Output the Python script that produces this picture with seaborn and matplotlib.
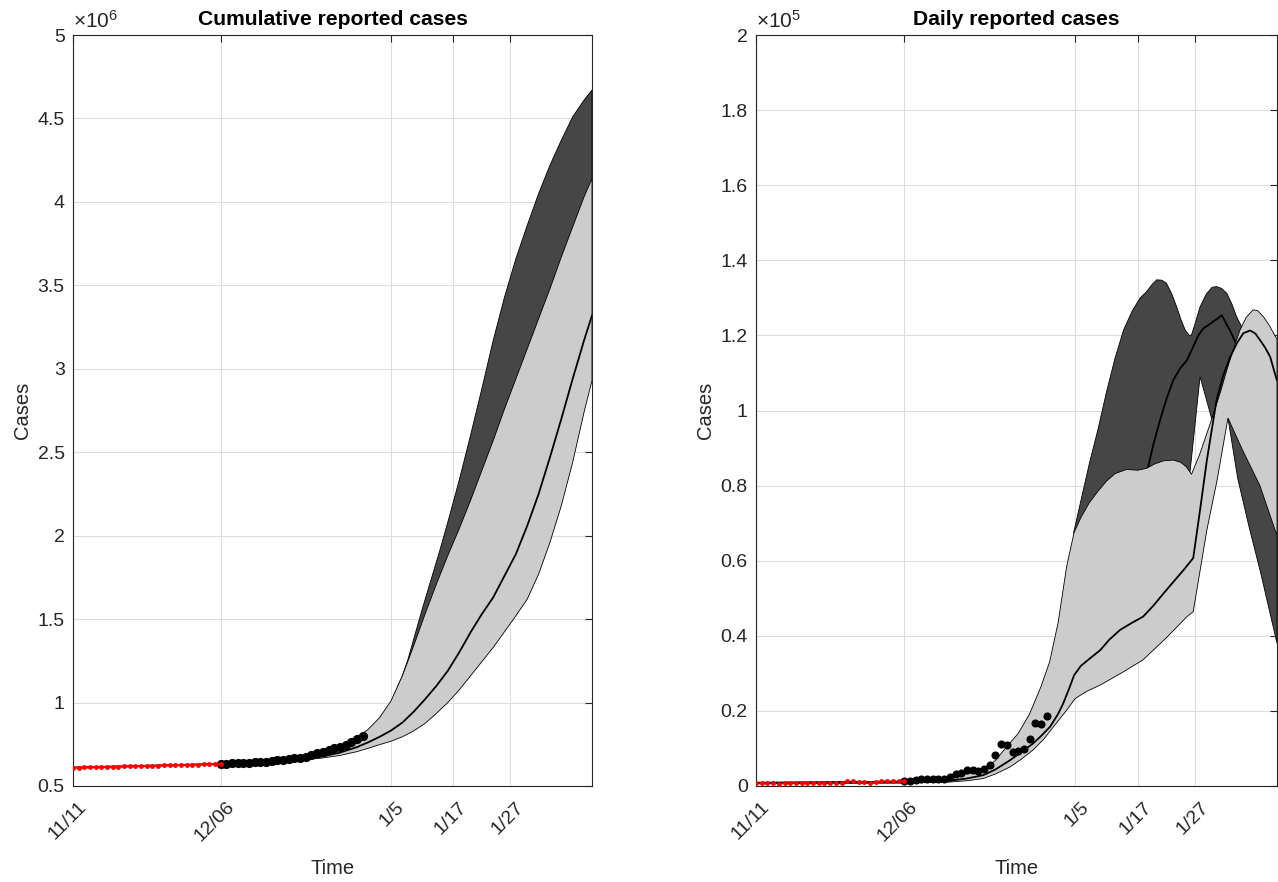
import numpy as np
import matplotlib
matplotlib.use('Agg')
import matplotlib.pyplot as plt
import matplotlib.transforms as mtransforms
import seaborn as sns

sns.set_style('white')
plt.rcParams['font.family'] = ['Liberation Sans', 'DejaVu Sans']
plt.rcParams['mathtext.fontset'] = 'custom'
plt.rcParams['mathtext.rm'] = 'Liberation Sans'
plt.rcParams['mathtext.it'] = 'Liberation Sans:italic'

# x axis: days since 11/11
tick_days = [0, 26, 56, 67, 77]
tick_labels = ['11/11', '12/06', '1/5', '1/17', '1/27']
x_end = 91.4

# ---- observed data ----
red_days = list(range(0, 27))
red_cum = [0.6100, 0.6108, 0.6116, 0.6124, 0.6131, 0.6139, 0.6147, 0.6155, 0.6164, 0.6173,
           0.6181, 0.6189, 0.6196, 0.6203, 0.6211, 0.6219, 0.6231, 0.6241, 0.6250, 0.6259,
           0.6265, 0.6274, 0.6285, 0.6295, 0.6305, 0.6313, 0.6320]          # x10^6
red_daily = [0.007, 0.007, 0.007, 0.007, 0.006, 0.007, 0.007, 0.008, 0.009, 0.009,
             0.009, 0.008, 0.008, 0.007, 0.008, 0.009, 0.014, 0.012, 0.010, 0.011,
             0.007, 0.011, 0.014, 0.013, 0.014, 0.012, 0.013]             # x10^5

obs_days = list(range(26, 52))
obs_cum = [0.6320, 0.6334, 0.6350, 0.6368, 0.6387, 0.6405, 0.6424, 0.6442, 0.6467, 0.6499,
           0.6534, 0.6577, 0.6620, 0.6661, 0.6705, 0.6761, 0.6844, 0.6956, 0.7065, 0.7156,
           0.7250, 0.7348, 0.7472, 0.7639, 0.7804, 0.7990]                # x10^6
obs_daily = [0.013, 0.014, 0.016, 0.018, 0.019, 0.018, 0.019, 0.018, 0.025, 0.032,
             0.035, 0.043, 0.043, 0.041, 0.044, 0.056, 0.083, 0.112, 0.109, 0.091,
             0.094, 0.098, 0.124, 0.167, 0.165, 0.186]                    # x10^5

# ---- cumulative forecast (x10^6) ----
cum_lo_up_d = [0, 26, 35, 40, 44, 47, 50, 52, 54, 56, 58, 60, 62, 64, 66, 68, 70, 72, 74, 76,
               78, 80, 82, 84, 86, 88, 90, 91.4]
cum_lo_up = [0.610, 0.632, 0.650, 0.670, 0.700, 0.740, 0.790, 0.840, 0.910, 1.010, 1.160, 1.340,
             1.530, 1.710, 1.880, 2.040, 2.210, 2.390, 2.570, 2.760, 2.940, 3.120, 3.300, 3.480,
             3.670, 3.850, 4.030, 4.140]
cum_lo_med_d = [0, 26, 30, 35, 40, 44, 47, 50, 52, 54, 56, 58, 60, 62, 64, 66, 68, 70, 72, 74,
                76, 78, 80, 82, 84, 86, 88, 90, 91.4]
cum_lo_med = [0.610, 0.632, 0.637, 0.645, 0.658, 0.677, 0.700, 0.733, 0.762, 0.795, 0.832, 0.880,
              0.945, 1.020, 1.100, 1.190, 1.300, 1.420, 1.530, 1.630, 1.760, 1.890, 2.060, 2.250,
              2.470, 2.700, 2.940, 3.170, 3.320]
cum_lo_low_d = [0, 26, 30, 35, 40, 44, 47, 50, 52, 54, 56, 58, 60, 62, 64, 66, 68, 70, 72, 74,
                76, 78, 80, 82, 84, 86, 88, 90, 91.4]
cum_lo_low = [0.610, 0.632, 0.636, 0.643, 0.654, 0.668, 0.683, 0.706, 0.726, 0.748, 0.768, 0.795,
              0.830, 0.875, 0.935, 1.000, 1.075, 1.160, 1.245, 1.330, 1.425, 1.520, 1.620, 1.770,
              1.960, 2.180, 2.440, 2.740, 2.930]
cum_hi_up_d = [56, 58, 59, 60, 61.5, 63, 64.5, 66, 68, 70, 72, 74, 76, 78, 80, 82, 84, 86, 88, 90, 91.4]
cum_hi_up = [1.000, 1.160, 1.260, 1.380, 1.560, 1.730, 1.900, 2.080, 2.330, 2.600, 2.880, 3.170,
             3.430, 3.660, 3.860, 4.050, 4.220, 4.370, 4.510, 4.610, 4.670]
cum_hi_low_d = [56, 58, 60, 64, 68, 72, 76, 80, 84, 88, 91.4]
cum_hi_low = [1.000, 1.150, 1.320, 1.700, 2.030, 2.380, 2.750, 3.110, 3.470, 3.840, 4.130]

# ---- daily forecast (x10^5) ----
day_lo_up_d = [0, 26, 30, 33.5, 36, 38, 40, 42, 44, 46, 48, 50, 51.5, 53, 54.5, 55.8, 57, 58.5,
               60, 61.5, 63, 65, 67, 68.5, 70, 71.5, 73.2, 74.5, 75.5, 76.4, 77.9, 79.9, 81.5,
               82.6, 83.8, 84.9, 86, 87.2, 88, 89, 90, 90.8, 91.4]
day_lo_up = [0.010, 0.013, 0.016, 0.022, 0.029, 0.036, 0.045, 0.068, 0.105, 0.140, 0.192, 0.265,
             0.330, 0.435, 0.585, 0.675, 0.715, 0.755, 0.785, 0.812, 0.832, 0.843, 0.841, 0.846,
             0.858, 0.866, 0.868, 0.862, 0.850, 0.830, 0.886, 0.975, 1.050, 1.108, 1.165, 1.214,
             1.248, 1.268, 1.266, 1.250, 1.228, 1.206, 1.190]
day_lo_med_d = [0, 26, 30, 33.5, 37, 39.9, 42, 44.6, 46.5, 48.6, 50, 51.6, 53, 53.9, 55, 55.8, 57,
                58.6, 60.4, 62, 63.9, 66, 67.9, 69.7, 71.5, 73.3, 75.0, 76.7, 77.9, 79.1, 80.8, 82,
                83.2, 84.4, 85.5, 86.7, 87.6, 88.4, 89.3, 90.2, 91.1, 91.4]
day_lo_med = [0.008, 0.010, 0.011, 0.013, 0.020, 0.029, 0.044, 0.069, 0.090, 0.113, 0.133, 0.158,
              0.192, 0.220, 0.262, 0.295, 0.320, 0.340, 0.362, 0.390, 0.416, 0.435, 0.451, 0.480,
              0.513, 0.545, 0.575, 0.607, 0.735, 0.868, 1.028, 1.095, 1.143, 1.180, 1.206, 1.213,
              1.205, 1.188, 1.168, 1.143, 1.095, 1.080]
day_lo_low_d = [0, 26, 30, 33.5, 37, 39.9, 42, 44.6, 46.5, 48.6, 50.5, 52.2, 54.5, 56.0, 58, 60.4,
                64, 67.9, 72, 75.6, 76.7, 79.1, 80.9, 82.8, 85.5, 88.4, 91.1, 91.4]
day_lo_low = [0.006, 0.008, 0.009, 0.010, 0.014, 0.020, 0.032, 0.051, 0.071, 0.096, 0.125, 0.158,
              0.202, 0.233, 0.252, 0.269, 0.300, 0.336, 0.395, 0.451, 0.464, 0.682, 0.815, 0.980,
              0.890, 0.800, 0.680, 0.670]
day_hi_up_d = [55.7, 57, 58.5, 60, 61.5, 63, 64.5, 66, 67.4, 68.5, 69.5, 70.3, 71.2, 72.0, 72.9,
               73.8, 74.6, 75.3, 76.0, 76.4, 77.0, 77.9, 79, 80, 80.8, 81.7, 82.6, 83.5, 84.3,
               85.2, 87.0, 89.0, 91.4]
day_hi_up = [0.673, 0.760, 0.860, 0.950, 1.050, 1.140, 1.215, 1.265, 1.300, 1.316, 1.336, 1.348,
             1.347, 1.339, 1.312, 1.276, 1.240, 1.214, 1.200, 1.201, 1.230, 1.276, 1.310, 1.328,
             1.330, 1.325, 1.312, 1.283, 1.250, 1.223, 1.120, 0.980, 0.820]
day_hi_low_d = [55.7, 60, 65, 70, 74, 76.1, 77.0, 77.9, 79, 80.0, 81.5, 82.8, 84.5, 86.5, 88.5,
                91.1, 91.4]
day_hi_low = [0.673, 0.750, 0.800, 0.820, 0.820, 0.830, 0.960, 1.090, 1.030, 0.975, 0.980, 0.980,
              0.820, 0.690, 0.570, 0.400, 0.380]
day_hi_med_d = [67.4, 68.8, 69.8, 70.9, 72, 73.2, 74.4, 75.6, 76.7, 77.6, 78.5, 79.4, 80.2, 81,
                81.7, 82.2, 82.6, 83.2, 83.8, 85.0]
day_hi_med = [0.800, 0.850, 0.915, 0.975, 1.030, 1.081, 1.112, 1.134, 1.170, 1.200, 1.219, 1.228,
              1.237, 1.245, 1.254, 1.240, 1.228, 1.212, 1.192, 1.150]

DARK = '#464646'
LIGHT = '#cccccc'
AXC = '#262626'


def band(ax, xu, yu, xl, yl, color, z):
    xs = np.concatenate([np.array(xu), np.array(xl)[::-1]])
    ys = np.concatenate([np.array(yu), np.array(yl)[::-1]])
    ax.fill(xs, ys, facecolor=color, edgecolor='black', linewidth=0.6, zorder=z)


def style(fig, ax, yticks, ylabels, ylim, title, mult):
    ax.set_xlim(0, x_end)
    ax.set_ylim(*ylim)
    ax.set_xticks(tick_days)
    ax.set_xticklabels(tick_labels, rotation=45, ha='right')
    ax.set_yticks(yticks)
    ax.set_yticklabels(ylabels)
    ax.tick_params(direction='in', length=5, width=0.8, top=True, right=True,
                   labelsize=14, colors=AXC, pad=6)
    ax.tick_params(axis='x', pad=9)
    ax.grid(True, color='#dedede', linewidth=0.8)
    ax.set_axisbelow(True)
    for s in ax.spines.values():
        s.set_visible(True)
        s.set_color(AXC)
        s.set_linewidth(0.8)
    ax.set_title(title, fontsize=15.2, fontweight='bold', color='black', pad=7)
    ax.set_xlabel('Time', fontsize=14.5, color=AXC, labelpad=10)
    ax.set_ylabel('Cases', fontsize=14.5, color=AXC, labelpad=4)
    ax.text(0.0, 1.004, mult, transform=ax.transAxes, fontsize=15, va='bottom', ha='left', color=AXC)
    offset = mtransforms.ScaledTranslation(17 / 100, 0, fig.dpi_scale_trans)
    for lab in ax.get_xticklabels():
        lab.set_transform(lab.get_transform() + offset)


fig = plt.figure(figsize=(12.78, 8.82), dpi=100)
ax1 = fig.add_axes([73 / 1278, 1 - 786 / 882, 519 / 1278, 751 / 882])
ax2 = fig.add_axes([756 / 1278, 1 - 786 / 882, 521 / 1278, 751 / 882])

# cumulative panel
band(ax1, cum_hi_up_d, cum_hi_up, cum_hi_low_d, cum_hi_low, DARK, 1)
band(ax1, cum_lo_up_d, cum_lo_up, cum_lo_low_d, cum_lo_low, LIGHT, 2)
sns.lineplot(x=cum_lo_med_d, y=cum_lo_med, ax=ax1, color='black', linewidth=1.3, zorder=3)
sns.scatterplot(x=obs_days, y=obs_cum, ax=ax1, color='black', s=44, linewidth=0, zorder=5)
sns.lineplot(x=red_days, y=red_cum, ax=ax1, color='red', linewidth=1.5, marker='o',
             markersize=3.5, markeredgewidth=0, zorder=6)
style(fig, ax1, np.arange(0.5, 5.01, 0.5), ['0.5', '1', '1.5', '2', '2.5', '3', '3.5', '4', '4.5', '5'],
      (0.5, 5), 'Cumulative reported cases', r'$\times10^{6}$')

# daily panel
band(ax2, day_hi_up_d, day_hi_up, day_hi_low_d, day_hi_low, DARK, 1)
sns.lineplot(x=day_hi_med_d, y=day_hi_med, ax=ax2, color='black', linewidth=1.3, zorder=1.5)
band(ax2, day_lo_up_d, day_lo_up, day_lo_low_d, day_lo_low, LIGHT, 2)
sns.lineplot(x=day_lo_med_d, y=day_lo_med, ax=ax2, color='black', linewidth=1.3, zorder=3)
sns.scatterplot(x=obs_days, y=obs_daily, ax=ax2, color='black', s=34, linewidth=0, zorder=5)
sns.lineplot(x=red_days, y=red_daily, ax=ax2, color='red', linewidth=1.0, linestyle=':', marker='o',
             markersize=3.5, markeredgewidth=0, zorder=6)
style(fig, ax2, np.arange(0, 2.01, 0.2), ['0', '0.2', '0.4', '0.6', '0.8', '1', '1.2', '1.4', '1.6', '1.8', '2'],
      (0, 2), 'Daily reported cases', r'$\times10^{5}$')

fig.savefig('out.png', dpi=100, facecolor='white')
